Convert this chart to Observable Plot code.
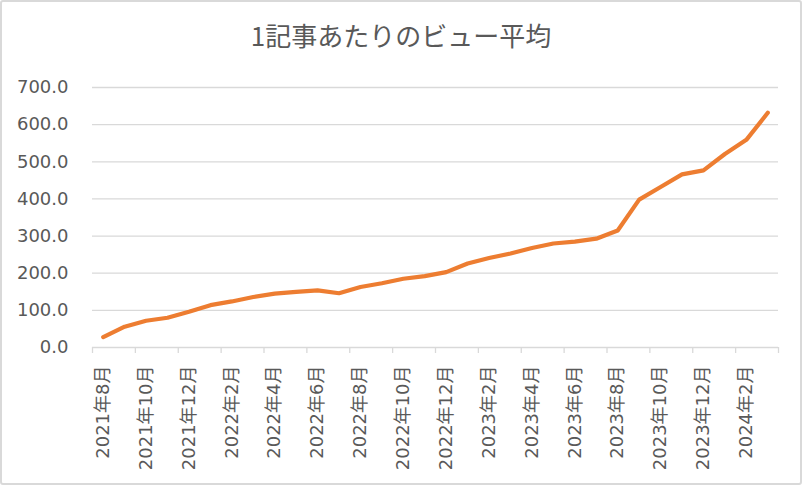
<!DOCTYPE html>
<html>
<head>
<meta charset="utf-8">
<script src="https://cdn.jsdelivr.net/npm/d3@7"></script>
<script src="https://cdn.jsdelivr.net/npm/@observablehq/plot@0.6"></script>
<style>
  html, body { margin: 0; padding: 0; background: #fff; }
  #wrap { position: relative; width: 802px; height: 485px; overflow: hidden; background: #fff; }
  #frame { position: absolute; left: 0; top: 0; width: 802px; height: 485px; box-sizing: border-box; border: 2px solid #d9d9d9; border-radius: 3px; pointer-events: none; }
  #title { height: 65px; display: flex; align-items: center; justify-content: center; font-family: "Noto Sans CJK JP", sans-serif; font-size: 26px; color: #595959; padding-top: 4px; box-sizing: border-box; }
  svg { display: block; }
</style>
</head>
<body>
<div id="wrap">
  <div id="title">1記事あたりのビュー平均</div>
  <div id="chart"></div>
  <div id="frame"></div>
</div>
<script>
const months = [
  "2021年8月","2021年9月","2021年10月","2021年11月","2021年12月",
  "2022年1月","2022年2月","2022年3月","2022年4月","2022年5月","2022年6月",
  "2022年7月","2022年8月","2022年9月","2022年10月","2022年11月","2022年12月",
  "2023年1月","2023年2月","2023年3月","2023年4月","2023年5月","2023年6月",
  "2023年7月","2023年8月","2023年9月","2023年10月","2023年11月","2023年12月",
  "2024年1月","2024年2月","2024年3月"
];
const views = [
  28, 56, 72, 80, 96,
  114, 124, 136, 145, 150, 154,
  146, 163, 173, 185, 192, 203,
  226, 241, 253, 268, 280, 285,
  293, 315, 398, 432, 466, 477,
  521, 559, 632
];
const yTicks = [0, 100, 200, 300, 400, 500, 600, 700];

const data = months.map((m, i) => ({i, month: m, value: views[i]}));
const labelIdx = months.map((m, i) => i).filter(i => i % 2 === 0);
const boundaries = months.map((m, i) => i - 0.5).filter((b, k) => k % 2 === 0).concat([months.length - 0.5]);

const font = "'DejaVu Sans', 'Noto Sans CJK JP', sans-serif";
const chart = Plot.plot({
  width: 802,
  height: 420,
  marginLeft: 92,
  marginRight: 24,
  marginTop: 22,
  marginBottom: 138,
  style: {fontFamily: font, fontSize: "18px", color: "#595959", background: "transparent"},
  x: {type: "linear", domain: [-0.5, months.length - 0.5], label: null},
  y: {domain: [0, 700], label: null},
  marks: [
    Plot.gridY(yTicks, {stroke: "#d9d9d9", strokeOpacity: 1, strokeWidth: 1.3}),
    Plot.axisY(yTicks, {tickSize: 0, tickPadding: 24, tickFormat: d => d.toFixed(1), fill: "#595959", fontSize: 18, label: null}),
    Plot.axisX(boundaries, {tickSize: 6, tickFormat: () => "", stroke: "#d9d9d9", strokeWidth: 1.3, label: null}),
    Plot.axisX(labelIdx, {tickSize: 0, tickPadding: 18, tickRotate: -90, tickFormat: i => months[i], fill: "#595959", fontSize: 18, label: null}),
    Plot.line(data, {x: "i", y: "value", stroke: "#ed7d31", strokeWidth: 4.2, strokeLinecap: "round", strokeLinejoin: "round"})
  ]
});
document.getElementById("chart").appendChild(chart);
</script>
</body>
</html>
